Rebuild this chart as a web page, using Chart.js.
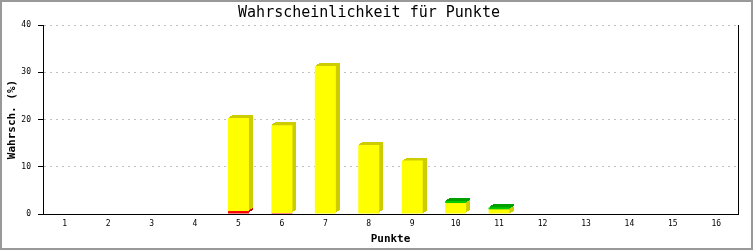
<!DOCTYPE html>
<html>
<head>
<meta charset="utf-8">
<script src="https://cdn.jsdelivr.net/npm/chart.js@4/dist/chart.umd.min.js"></script>
<style>
  body { margin: 0; background: #fff; }
  canvas { display: block; }
</style>
</head>
<body>
<canvas id="punkte" width="753" height="250"></canvas>
<script>
const punkte = ['1', '2', '3', '4', '5', '6', '7', '8', '9', '10', '11', '12', '13', '14', '15', '16'];
const rot =   [0, 0, 0, 0, 0.6, 0.2, 0, 0, 0, 0, 0, 0, 0, 0, 0, 0];
const gelb =  [0, 0, 0, 0, 19.7, 18.6, 31.3, 14.6, 11.3, 2.3, 0.95, 0, 0, 0, 0, 0];
const gruen = [0, 0, 0, 0, 0, 0, 0, 0, 0, 0.45, 0.45, 0, 0, 0, 0, 0];
const yTicks = [0, 10, 20, 30, 40];

const mono = 'DejaVu Sans Mono';
// dunklere Farbe für die 3D-Seite
const seiten = ['#c80000', '#cccc00', '#00a000'];

// zeichnet die 3D-Tiefe hinter jedem Balken
const tiefePlugin = {
    id: 'tiefe',
    beforeDatasetsDraw(chart) {
        const ctx = chart.ctx;
        const dx = 4, dy = 3;
        chart.data.datasets.forEach(function (ds, i) {
            const meta = chart.getDatasetMeta(i);
            ctx.save();
            ctx.fillStyle = seiten[i];
            meta.data.forEach(function (bar) {
                const p = bar.getProps(['x', 'y', 'base', 'width'], true);
                const h = p.base - p.y;
                if (h < 0.5) return;
                const left = Math.round(p.x - p.width / 2);
                const w = Math.round(p.width);
                for (let k = 1; k <= dx; k++) {
                    const off = Math.round(k * dy / dx);
                    ctx.fillRect(left + k, Math.round(p.y) - off, w, Math.round(h));
                }
            });
            ctx.restore();
        });
    },
    afterDraw(chart) {
        const ctx = chart.ctx;
        const a = chart.chartArea;
        ctx.save();
        ctx.strokeStyle = '#000';
        ctx.lineWidth = 1;
        ctx.beginPath();
        ctx.moveTo(Math.round(a.right) + 0.5, a.top);
        ctx.lineTo(Math.round(a.right) + 0.5, a.bottom);
        ctx.stroke();
        ctx.strokeStyle = '#999';
        ctx.lineWidth = 2;
        ctx.strokeRect(1, 1, chart.width - 2, chart.height - 2);
        ctx.restore();
    }
};

const config = {
    type: 'bar',
    data: {
        labels: punkte,
        datasets: [
            { label: 'rot', data: rot, backgroundColor: '#ff0000', barThickness: 21, inflateAmount: 0 },
            { label: 'gelb', data: gelb, backgroundColor: '#ffff00', barThickness: 21, inflateAmount: 0 },
            { label: 'grün', data: gruen, backgroundColor: '#00cc00', barThickness: 21, inflateAmount: 0 }
        ]
    },
    options: {
        responsive: false,
        animation: false,
        layout: { padding: { left: 0, right: 15, top: 0, bottom: 0 } },
        plugins: {
            legend: { display: false },
            tooltip: { enabled: false },
            title: {
                display: true,
                text: 'Wahrscheinlichkeit für Punkte',
                color: '#000',
                font: { family: mono, size: 15, weight: 'normal' },
                padding: { top: 4, bottom: 3 }
            }
        },
        scales: {
            x: {
                stacked: true,
                grid: { display: false, drawTicks: false },
                border: { display: true, color: '#000', width: 1 },
                ticks: { color: '#000', font: { family: mono, size: 8 }, padding: 5, maxRotation: 0 },
                title: {
                    display: true, text: 'Punkte', color: '#000',
                    font: { family: mono, size: 11, weight: 'bold' },
                    padding: { top: 4, bottom: 4 }
                },
                afterFit(scale) { scale.height = 36; }
            },
            y: {
                stacked: true,
                min: 0,
                max: 40,
                afterBuildTicks(scale) { scale.ticks = yTicks.map(v => ({ value: v })); },
                grid: {
                    color: c => (c.tick && c.tick.value === 0) ? 'rgba(0,0,0,0)' : '#c0c0c0',
                    tickColor: '#000',
                    tickLength: 5,
                    tickBorderDash: []
                },
                border: { display: true, color: '#000', width: 1, dash: [2, 4] },
                ticks: { color: '#000', font: { family: mono, size: 8 }, padding: 7 },
                title: {
                    display: true, text: 'Wahrsch. (%)', color: '#000',
                    font: { family: mono, size: 11, weight: 'bold' },
                    padding: { top: 6, bottom: 4 }
                },
                afterFit(scale) { scale.width = 43; }
            }
        }
    },
    plugins: [tiefePlugin]
};

const context = document.getElementById('punkte').getContext('2d');
const balken = new Chart(context, config);
</script>
</body>
</html>
